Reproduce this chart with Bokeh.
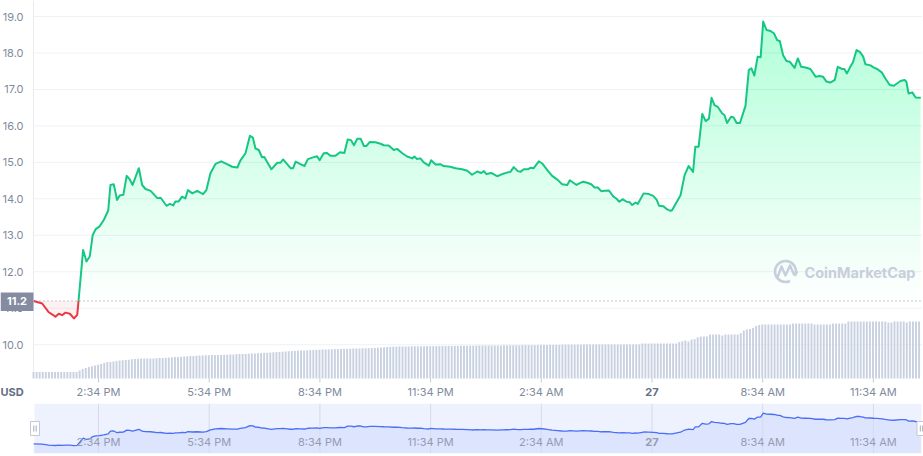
import numpy as np
from bokeh.plotting import figure
from bokeh.models import Range1d
from bokeh.layouts import column
from bokeh.embed import file_html
from bokeh.resources import INLINE
from bokeh.core.properties import value

# ---------------- data ----------------
# time in hours after 12:00 PM (day 26)
price_t = [0.81, 1.04, 1.22, 1.40, 1.49, 1.58, 1.67, 1.79, 1.90, 1.99,
           2.02, 2.15, 2.24, 2.33, 2.41, 2.49, 2.59, 2.71, 2.83, 2.89,
           2.98, 3.07, 3.14, 3.24, 3.33, 3.41, 3.49, 3.66, 3.75, 3.84,
           3.98, 4.16, 4.25, 4.41, 4.50, 4.59, 4.65, 4.74, 4.83, 4.92,
           4.99, 5.11, 5.24, 5.40, 5.49, 5.60, 5.74, 5.89, 6.05, 6.19,
           6.33, 6.41, 6.55, 6.67, 6.75, 6.82, 6.91, 7.00, 7.06, 7.25,
           7.41, 7.50, 7.57, 7.68, 7.77, 7.84, 7.91, 8.04, 8.15, 8.24,
           8.36, 8.49, 8.56, 8.67, 8.76, 8.85, 8.99, 9.11, 9.23, 9.32,
           9.41, 9.49, 9.58, 9.67, 9.76, 9.83, 9.92, 10.07, 10.21, 10.30,
           10.43, 10.57, 10.66, 10.80, 10.93, 11.07, 11.13, 11.20, 11.29, 11.38,
           11.52, 11.58, 11.70, 11.83, 11.92, 12.10, 12.24, 12.42, 12.56, 12.69,
           12.83, 12.94, 13.01, 13.08, 13.21, 13.37, 13.51, 13.64, 13.73, 13.82,
           13.93, 14.00, 14.09, 14.20, 14.27, 14.36, 14.50, 14.59, 14.73, 14.86,
           15.01, 15.13, 15.27, 15.34, 15.52, 15.61, 15.70, 15.81, 15.92, 16.01,
           16.10, 16.19, 16.28, 16.40, 16.52, 16.60, 16.68, 16.77, 16.88, 16.96,
           17.03, 17.12, 17.18, 17.34, 17.48, 17.60, 17.69, 17.76, 17.87, 17.98,
           18.07, 18.11, 18.34, 18.45, 18.56, 18.68, 18.74, 18.83, 18.93, 19.02,
           19.11, 19.18, 19.26, 19.35, 19.47, 19.53, 19.60, 19.71, 19.78, 19.86,
           19.95, 20.10, 20.19, 20.26, 20.34, 20.43, 20.51, 20.58, 20.67, 20.78,
           20.87, 20.96, 21.03, 21.12, 21.21, 21.30, 21.43, 21.52, 21.61, 21.73,
           21.86, 22.00, 22.11, 22.20, 22.29, 22.40, 22.52, 22.60, 22.72, 22.78,
           22.85, 22.94, 23.01, 23.11, 23.20, 23.29, 23.35, 23.49, 23.58, 23.67,
           23.80, 23.89, 24.01, 24.12, 24.30, 24.41, 24.46, 24.52, 24.62, 24.71,
           24.85]
price_v = [11.20, 11.13, 10.89, 10.77, 10.85, 10.81, 10.88, 10.85, 10.72, 10.82,
           11.14, 12.60, 12.28, 12.42, 13.01, 13.17, 13.24, 13.42, 13.68, 14.38,
           14.40, 13.97, 14.09, 14.11, 14.63, 14.54, 14.38, 14.84, 14.38, 14.27,
           14.22, 14.02, 14.03, 13.81, 13.86, 13.82, 13.93, 13.93, 14.06, 14.01,
           14.24, 14.15, 14.22, 14.13, 14.24, 14.70, 14.96, 15.03, 14.95, 14.88,
           14.86, 15.05, 15.25, 15.73, 15.68, 15.38, 15.34, 15.14, 15.15, 14.81,
           14.99, 14.99, 15.08, 14.95, 14.84, 14.84, 15.02, 14.95, 14.90, 15.09,
           15.13, 15.17, 15.06, 15.25, 15.26, 15.18, 15.18, 15.28, 15.26, 15.63,
           15.61, 15.47, 15.65, 15.65, 15.45, 15.45, 15.56, 15.55, 15.51, 15.47,
           15.46, 15.34, 15.37, 15.25, 15.16, 15.11, 15.16, 15.09, 15.11, 15.00,
           14.91, 15.06, 14.94, 14.95, 14.90, 14.88, 14.84, 14.81, 14.77, 14.66,
           14.75, 14.71, 14.76, 14.68, 14.71, 14.62, 14.68, 14.72, 14.74, 14.87,
           14.76, 14.74, 14.81, 14.81, 14.85, 14.84, 15.03, 14.97, 14.79, 14.63,
           14.52, 14.40, 14.38, 14.51, 14.38, 14.43, 14.47, 14.44, 14.40, 14.31,
           14.31, 14.21, 14.22, 14.23, 14.06, 14.01, 13.92, 13.99, 13.92, 13.91,
           13.83, 13.90, 13.86, 14.15, 14.13, 14.08, 13.98, 13.81, 13.80, 13.71,
           13.67, 13.69, 14.10, 14.65, 14.90, 14.74, 15.43, 15.43, 16.33, 16.13,
           16.20, 16.77, 16.57, 16.52, 16.34, 16.30, 16.08, 16.25, 16.23, 16.08,
           16.08, 16.55, 17.53, 17.58, 17.38, 17.90, 17.88, 18.86, 18.63, 18.60,
           18.54, 18.35, 18.33, 17.94, 17.78, 17.76, 17.59, 17.85, 17.62, 17.60,
           17.56, 17.35, 17.37, 17.35, 17.22, 17.19, 17.26, 17.62, 17.56, 17.56,
           17.44, 17.62, 17.74, 18.08, 18.03, 17.90, 17.69, 17.66, 17.60, 17.56,
           17.46, 17.30, 17.12, 17.10, 17.23, 17.26, 17.21, 16.89, 16.92, 16.78,
           16.77]

# 24h volume (USD millions), one bar every 5 minutes from the first price point
volume = [32, 32, 32, 32, 32, 32, 32, 32, 32, 32, 32, 32,
          32, 32, 32, 40, 48, 52, 57, 61, 65, 69, 73, 78,
          82, 83, 85, 87, 90, 91, 93, 94, 96, 97, 99, 100,
          100, 100, 100, 100, 101, 102, 103, 104, 105, 106, 107, 108,
          109, 110, 111, 112, 113, 114, 115, 115, 116, 116, 117, 117,
          118, 118, 119, 119, 120, 120, 121, 122, 122, 123, 124, 125,
          125, 126, 127, 128, 129, 130, 131, 132, 133, 134, 135, 136,
          137, 138, 139, 140, 140, 141, 142, 143, 143, 144, 145, 145,
          146, 146, 147, 147, 148, 148, 149, 149, 150, 150, 150, 151,
          151, 152, 152, 153, 154, 155, 156, 157, 158, 159, 159, 160,
          160, 160, 160, 161, 161, 161, 161, 161, 162, 162, 162, 162,
          162, 162, 163, 163, 163, 163, 163, 164, 164, 164, 164, 164,
          165, 165, 165, 165, 165, 165, 165, 165, 165, 166, 166, 166,
          166, 166, 166, 167, 167, 167, 167, 167, 167, 168, 168, 168,
          168, 168, 168, 168, 169, 169, 169, 169, 169, 169, 169, 170,
          170, 170, 170, 170, 170, 170, 170, 170, 170, 170, 170, 170,
          170, 170, 170, 170, 170, 170, 175, 175, 175, 175, 175, 175,
          175, 175, 175, 175, 175, 175, 182, 186, 190, 185, 195, 197,
          206, 210, 210, 210, 220, 220, 220, 220, 215, 220, 220, 220,
          220, 220, 227, 240, 245, 248, 253, 262, 268, 270, 270, 270,
          270, 270, 270, 270, 270, 270, 270, 275, 275, 275, 275, 275,
          275, 275, 270, 270, 270, 270, 270, 270, 275, 275, 275, 275,
          275, 285, 285, 285, 285, 285, 285, 285, 285, 285, 285, 285,
          285, 285, 280, 280, 285, 285, 285, 285, 280, 285, 285, 285,
          285]

tick_hours = [2.5667, 5.5667, 8.5667, 11.5667, 14.5667, 17.5667, 20.5667, 23.5667]
tick_labels = ["2:34 PM", "5:34 PM", "8:34 PM", "11:34 PM", "2:34 AM", "27", "8:34 AM", "11:34 AM"]
bold_label = "27"
y_ticks = [10, 11, 12, 13, 14, 15, 16, 17, 18, 19]
BASE = 11.2
BASE_TEXT = "11.2"
CURRENCY = "USD"

# ---------------- geometry / styles ----------------
W = 923
X0, X1 = 0.805, 24.87          # data time span
PXH = 888 / (X1 - X0)          # px per hour (data area from px 33 to 921)
XL = X0 - 33 / PXH             # frame starts at picture x = 0
XR = XL + W / PXH
PLOT_H = 378                   # price/volume area height
MAIN_H = 403                   # including the time-axis strip
PXV = 36.47
Y1 = 19.0 + 16 / PXV
YB = Y1 - PLOT_H / PXV         # bottom of the price area
Y0 = Y1 - MAIN_H / PXV
STEP = 5.0 / 60.0
VPX = 5.0                      # volume units per pixel

GREEN = "#16c784"
RED = "#ea3943"
GRAY = "#808a9d"
DARK = "#616e85"
FONT = "Inter"


def hx(px):
    return XL + px / PXH


def vy(py):
    return Y1 - py / PXV


t = np.array(price_t, dtype=float)
v = np.array(price_v, dtype=float)

# insert baseline crossing points
at, av = [t[0]], [v[0]]
for i in range(1, len(t)):
    a, b = v[i - 1] - BASE, v[i] - BASE
    if a * b < 0:
        f = a / (a - b)
        at.append(t[i - 1] + f * (t[i] - t[i - 1]))
        av.append(BASE)
    at.append(t[i])
    av.append(v[i])
at = np.array(at)
av = np.array(av)
green_y = np.where(av >= BASE - 1e-9, av, np.nan)
red_y = np.where(av <= BASE + 1e-9, av, np.nan)

# ---------------- main chart ----------------
p = figure(x_range=Range1d(XL, XR), y_range=Range1d(Y0, Y1),
           frame_width=W, frame_height=MAIN_H, x_axis_type=None, y_axis_type=None,
           min_border_left=0, min_border_right=0, min_border_top=0, min_border_bottom=0,
           output_backend="svg", toolbar_location=None, tools="")
p.outline_line_color = None
p.background_fill_color = "white"
p.border_fill_color = "white"
p.grid.visible = False

# horizontal grid lines over the data span + left axis line
p.segment(x0=[X0] * len(y_ticks), x1=[X1 + 0.5 / PXH] * len(y_ticks), y0=y_ticks, y1=y_ticks,
          line_color="#eff2f5", line_width=1)
p.segment(x0=[X0], x1=[X0], y0=[YB], y1=[Y1], line_color="#e8ecf2", line_width=1)

# volume bars (zero at the bottom of the price area)
p.extra_y_ranges = {"vol": Range1d(-(MAIN_H - PLOT_H) * VPX, PLOT_H * VPX)}
vol_t = X0 + STEP * np.arange(len(volume))
p.vbar(x=vol_t, bottom=0, top=volume, width=STEP * 0.62, y_range_name="vol",
       fill_color="#c9d1e1", line_color=None)

# green gradient fill above baseline (stacked translucent layers)
levels = np.linspace(BASE, 19.0, 40)[:-1]
for lv in levels:
    p.varea(x=at, y1=np.full_like(av, lv), y2=np.maximum(av, lv),
            fill_color=GREEN, fill_alpha=0.0095)
# light red fill below baseline
p.varea(x=at, y1=np.minimum(av, BASE), y2=np.full_like(av, BASE),
        fill_color=RED, fill_alpha=0.07)

# dotted reference line at the opening price
p.segment(x0=[X0 + 2 / PXH], x1=[X1], y0=[BASE], y1=[BASE],
          line_color="#8a93a8", line_width=1, line_dash="1 3")

p.line(at, green_y, line_color=GREEN, line_width=2, line_join="round")
p.line(at, red_y, line_color=RED, line_width=2, line_join="round")

# watermark
wm_color = "#c8cedc"
p.arc(x=[hx(785)], y=[vy(271)], radius=10.5, radius_units="screen",
      start_angle=np.deg2rad(-25), end_angle=np.deg2rad(295),
      line_color=wm_color, line_width=2.6)
p.line(x=[hx(q) for q in (777, 781, 785, 789.5, 793.5, 797)],
       y=[vy(q) for q in (277, 266, 275, 265, 274, 271)],
       line_color=wm_color, line_width=2.4, line_join="round")
p.text(x=[hx(804)], y=[vy(271.5)], text=["CoinMarketCap"], text_font=value(FONT),
       text_font_size="14.5px", text_font_style="bold", text_color=wm_color,
       text_baseline="middle", text_align="left")

# y tick labels
p.text(x=[hx(23)] * len(y_ticks), y=y_ticks, text=["%.1f" % yv for yv in y_ticks],
       text_font=value(FONT), text_font_size="11px", text_color=GRAY,
       text_align="right", text_baseline="middle")

# opening price tag
p.quad(left=[hx(0)], right=[hx(33)], bottom=[vy(310.5)], top=[vy(292)],
       fill_color="#858ca2", line_color=None)
p.text(x=[hx(16.5)], y=[BASE], text=[BASE_TEXT], text_font=value(FONT),
       text_font_size="11px", text_font_style="bold", text_color="white",
       text_align="center", text_baseline="middle")

# time axis: ticks and labels
p.segment(x0=tick_hours, x1=tick_hours, y0=[YB] * len(tick_hours),
          y1=[vy(PLOT_H + 4)] * len(tick_hours), line_color="#c4cad6", line_width=1)
lab_y = vy(391)
reg = [(tv, lab) for tv, lab in zip(tick_hours, tick_labels) if lab != bold_label]
bld = [(tv, lab) for tv, lab in zip(tick_hours, tick_labels) if lab == bold_label]
p.text(x=[a for a, _ in reg], y=[lab_y] * len(reg), text=[b for _, b in reg],
       text_font=value(FONT), text_font_size="11px", text_color=GRAY,
       text_align="center", text_baseline="middle")
p.text(x=[a for a, _ in bld], y=[lab_y] * len(bld), text=[b for _, b in bld],
       text_font=value(FONT), text_font_size="11px", text_font_style="bold",
       text_color=DARK, text_align="center", text_baseline="middle")
p.text(x=[hx(0)], y=[lab_y], text=[CURRENCY], text_font=value(FONT),
       text_font_size="11px", text_font_style="bold", text_color=DARK,
       text_align="left", text_baseline="middle")

# ---------------- navigator ----------------
NY0, NY1 = 8.77, 21.29
NFH = 50
n = figure(x_range=Range1d(XL, XR), y_range=Range1d(NY0, NY1),
           frame_width=W, frame_height=NFH,
           min_border_left=0, min_border_right=0, min_border_top=0, min_border_bottom=3,
           x_axis_type=None, y_axis_type=None,
           output_backend="svg", toolbar_location=None, tools="")
n.outline_line_color = None
n.grid.visible = False
n.background_fill_color = "white"
n.border_fill_color = "white"

n.quad(left=[X0 + 1 / PXH], right=[X1], bottom=[NY0], top=[NY1],
       fill_color="#eef1fe", line_color=None)
n.varea(x=t, y1=np.full_like(v, NY0), y2=v, fill_color="#3861fb", fill_alpha=0.09)
n.segment(x0=tick_hours, x1=tick_hours, y0=[NY0] * len(tick_hours), y1=[NY1] * len(tick_hours),
          line_color="#d6dbe8", line_width=1)
n.line(t, v, line_color="#4a6ef5", line_width=1.3)

nav_lab_y = NY1 - 0.76 * (NY1 - NY0)
n.text(x=[a for a, _ in reg], y=[nav_lab_y] * len(reg), text=[b for _, b in reg],
       text_font=value(FONT), text_font_size="11px", text_color="#959cb0",
       text_align="center", text_baseline="middle")
n.text(x=[a for a, _ in bld], y=[nav_lab_y] * len(bld), text=[b for _, b in bld],
       text_font=value(FONT), text_font_size="11px", text_font_style="bold",
       text_color="#959cb0", text_align="center", text_baseline="middle")

# range handles
mid = (NY0 + NY1) / 2
hxs = [X0 + 1.5 / PXH, X1]
n.rect(x=hxs, y=[mid, mid], width=9, height=14, width_units="screen",
       height_units="screen", fill_color="white", line_color="#c3c9d6", line_width=1)
grip_x = [h + d / PXH for h in hxs for d in (-1.2, 1.2)]
n.rect(x=grip_x, y=[mid] * len(grip_x), width=1, height=6, width_units="screen",
       height_units="screen", fill_color="#a4abbd", line_color=None)

layout = column(p, n)
open("out.html", "w").write(file_html(layout, INLINE))
